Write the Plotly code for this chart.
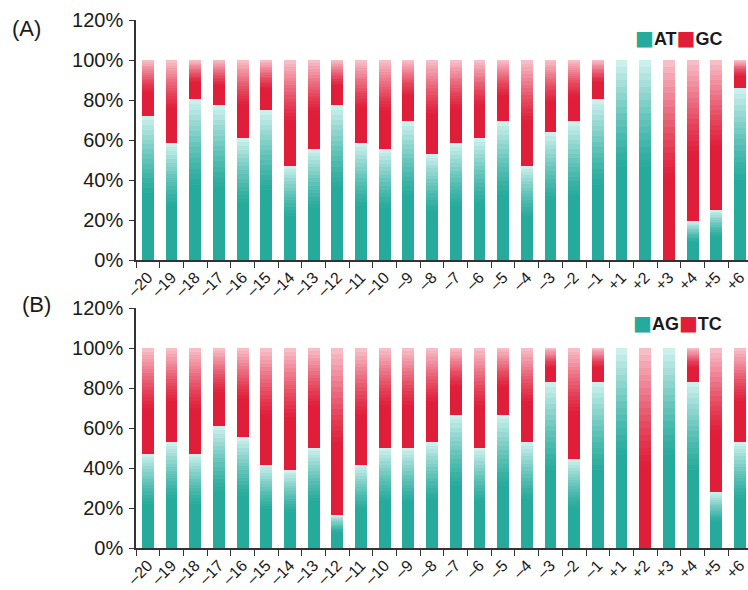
import plotly.graph_objects as go

# Positions relative to the start codon
positions = ["–20", "–19", "–18", "–17", "–16", "–15", "–14", "–13", "–12", "–11",
             "–10", "–9", "–8", "–7", "–6", "–5", "–4", "–3", "–2", "–1",
             "+1", "+2", "+3", "+4", "+5", "+6"]

# (A) AT vs GC content (%)
at_pct = [72.2, 58.3, 80.6, 77.8, 61.1, 75.0, 47.2, 55.6, 77.8, 58.3,
          55.6, 69.4, 52.8, 58.3, 61.1, 69.4, 47.2, 63.9, 69.4, 80.6,
          100.0, 100.0, 0.0, 19.4, 25.0, 86.1]
gc_pct = [round(100 - v, 1) for v in at_pct]

# (B) AG vs TC content (%)
ag_pct = [47.2, 52.8, 47.2, 61.1, 55.6, 41.7, 38.9, 50.0, 16.7, 41.7,
          50.0, 50.0, 52.8, 66.7, 50.0, 66.7, 52.8, 83.3, 44.4, 83.3,
          100.0, 0.0, 100.0, 83.3, 27.8, 52.8]
tc_pct = [round(100 - v, 1) for v in ag_pct]

y_ticks = [0, 20, 40, 60, 80, 100, 120]
y_ticktext = ["0%", "20%", "40%", "60%", "80%", "100%", "120%"]

TEAL_DARK = (38, 170, 156)
TEAL_LIGHT = (210, 243, 239)
RED_DARK = (224, 30, 58)
RED_LIGHT = (248, 196, 205)

N_STEPS = 30
BAR_W = 0.5


def mix(c1, c2, t):
    return "rgb(%d,%d,%d)" % tuple(round(a + (b - a) * t) for a, b in zip(c1, c2))


def shade(t, solid_until):
    # t: 0 at bottom of a segment, 1 at its top
    if t <= solid_until:
        return 0.0
    s = (t - solid_until) / (1 - solid_until)
    return s ** 1.3


def add_gradient_segment(fig, row_axes, base, height, dark, light, solid_until):
    xa, ya = row_axes
    # tallest (lightest) slice first, each following slice shorter and darker
    for k in range(N_STEPS - 1, -1, -1):
        frac = (k + 1) / N_STEPS
        t = (k + 0.5) / N_STEPS
        fig.add_trace(go.Bar(
            x=positions,
            y=[h * frac for h in height],
            base=base,
            width=BAR_W,
            marker=dict(color=mix(dark, light, shade(t, solid_until)), line_width=0),
            showlegend=False,
            hoverinfo="skip",
            xaxis=xa, yaxis=ya,
        ))


fig = go.Figure()

# Panel A
add_gradient_segment(fig, ("x", "y"), [0] * len(positions), at_pct,
                     TEAL_DARK, TEAL_LIGHT, 0.45)
add_gradient_segment(fig, ("x", "y"), at_pct, gc_pct,
                     RED_DARK, RED_LIGHT, 0.4)
# Panel B
add_gradient_segment(fig, ("x2", "y2"), [0] * len(positions), ag_pct,
                     TEAL_DARK, TEAL_LIGHT, 0.45)
add_gradient_segment(fig, ("x2", "y2"), ag_pct, tc_pct,
                     RED_DARK, RED_LIGHT, 0.4)

W, H = 748, 590
x_dom = [136 / W, 1.0]

# pixel rows (from the top) of the 120% and 0% lines of each panel
A_TOP, A_BOT = 20, 260
B_TOP, B_BOT = 308, 548

FONT = "Liberation Sans, Arial, sans-serif"
axis_font = dict(family=FONT, size=20, color="#1a1a1a")
xtick_font = dict(family=FONT, size=16, color="#1a1a1a")

xaxis_common = dict(
    type="category", categoryorder="array", categoryarray=positions,
    range=[-0.5, 25.34], domain=x_dom, automargin=False,
    showline=True, linecolor="#333", linewidth=1.5,
    ticks="outside", ticklen=6, tickwidth=1.3, tickcolor="#333",
    tickson="boundaries", tickangle=-45, tickfont=xtick_font,
    showgrid=False, zeroline=False, fixedrange=True,
)
yaxis_common = dict(
    range=[0, 120], tickmode="array", tickvals=y_ticks, ticktext=y_ticktext,
    automargin=False,
    showline=True, linecolor="#333", linewidth=1.5,
    ticks="outside", ticklen=5, tickwidth=1.3, tickcolor="#333",
    ticklabelstandoff=2,
    tickfont=axis_font, showgrid=False, zeroline=False, fixedrange=True,
)

fig.update_layout(
    width=W, height=H,
    margin=dict(l=0, r=0, t=0, b=0, autoexpand=False),
    paper_bgcolor="white", plot_bgcolor="white",
    barmode="overlay", bargap=0,
    showlegend=False,
    xaxis=dict(xaxis_common, anchor="y"),
    yaxis=dict(yaxis_common, domain=[1 - A_BOT / H, 1 - A_TOP / H], anchor="x"),
    xaxis2=dict(xaxis_common, anchor="y2"),
    yaxis2=dict(yaxis_common, domain=[1 - B_BOT / H, 1 - B_TOP / H], anchor="x2"),
)

label_font = dict(family=FONT, size=22, color="#1a1a1a")
legend_font = dict(family=FONT, size=18, color="#1a1a1a")


def legend_text(a, b):
    sq = "<span style='font-family:DejaVu Sans;font-size:20px;color:%s'>■</span>"
    return (sq % mix(TEAL_DARK, TEAL_DARK, 0)) + "<b>" + a + "</b>" + \
           (sq % mix(RED_DARK, RED_DARK, 0)) + "<b>" + b + "</b>"


fig.add_annotation(text="(A)", x=10 / W, y=1 - (A_TOP + 8) / H, xref="paper", yref="paper",
                   xanchor="left", yanchor="middle", showarrow=False, font=label_font)
fig.add_annotation(text="(B)", x=20 / W, y=1 - (B_TOP - 4) / H, xref="paper", yref="paper",
                   xanchor="left", yanchor="middle", showarrow=False, font=label_font)
fig.add_annotation(text=legend_text("AT", "GC"), x=724 / W, y=1 - (A_TOP + 18) / H,
                   xref="paper", yref="paper", xanchor="right", yanchor="middle",
                   showarrow=False, font=legend_font)
fig.add_annotation(text=legend_text("AG", "TC"), x=724 / W, y=1 - (B_TOP + 15) / H,
                   xref="paper", yref="paper", xanchor="right", yanchor="middle",
                   showarrow=False, font=legend_font)

fig.write_html("out.html")
